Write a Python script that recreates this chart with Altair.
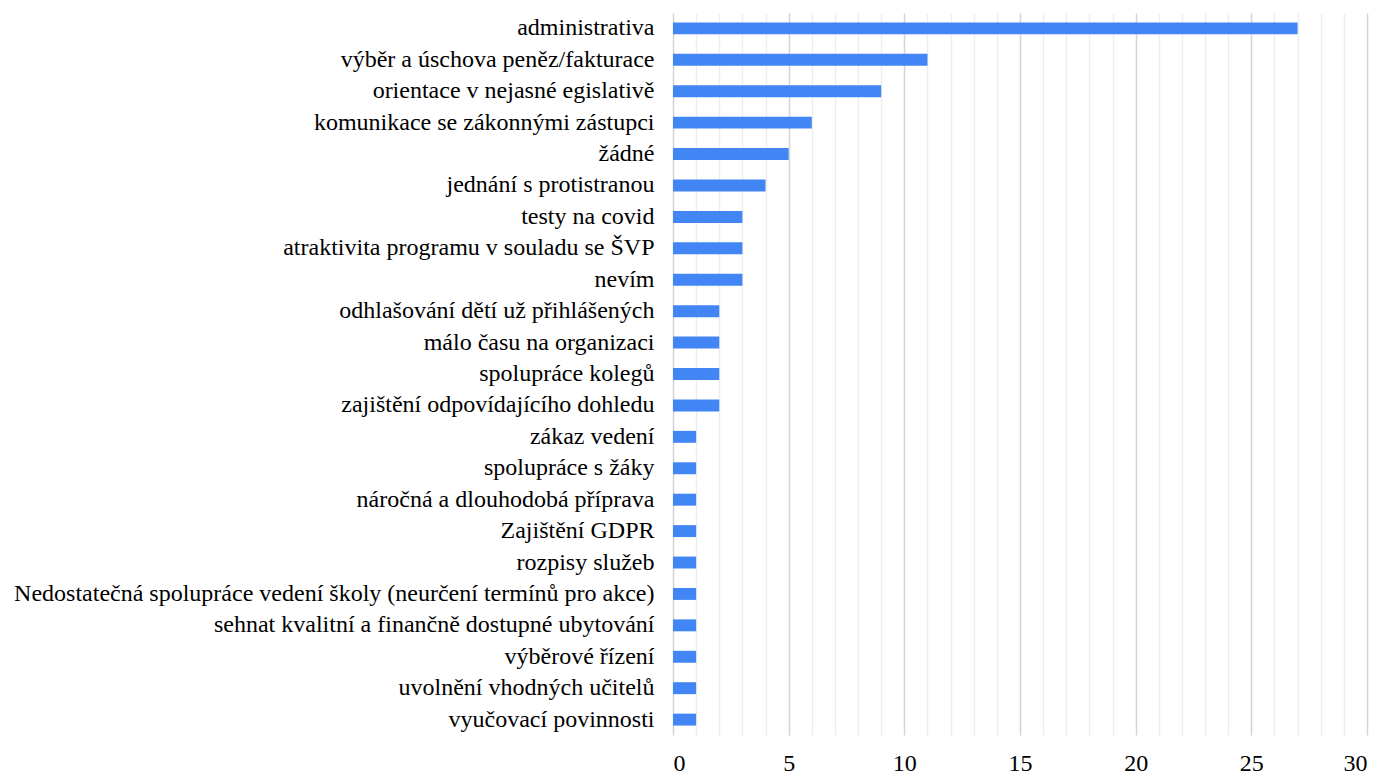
import altair as alt
import pandas as pd

categories = [
    "administrativa",
    "výběr a úschova peněz/fakturace",
    "orientace v nejasné egislativě",
    "komunikace se zákonnými zástupci",
    "žádné",
    "jednání s protistranou",
    "testy na covid",
    "atraktivita programu v souladu se ŠVP",
    "nevím",
    "odhlašování dětí už přihlášených",
    "málo času na organizaci",
    "spolupráce kolegů",
    "zajištění odpovídajícího dohledu",
    "zákaz vedení",
    "spolupráce s žáky",
    "náročná a dlouhodobá příprava",
    "Zajištění GDPR",
    "rozpisy služeb",
    "Nedostatečná spolupráce vedení školy (neurčení termínů pro akce)",
    "sehnat kvalitní a finančně dostupné ubytování",
    "výběrové řízení",
    "uvolnění vhodných učitelů",
    "vyučovací povinnosti",
]
values = [27, 11, 9, 6, 5, 4, 3, 3, 3, 2, 2, 2, 2, 1, 1, 1, 1, 1, 1, 1, 1, 1, 1]
x_ticks = list(range(0, 31))

df = pd.DataFrame({"category": categories, "value": values})

FONT = "Liberation Serif"

chart = (
    alt.Chart(df)
    .mark_bar(color="#4285F4")
    .encode(
        x=alt.X(
            "value:Q",
            scale=alt.Scale(domain=[0, 30], nice=False),
            axis=alt.Axis(
                title=None,
                values=x_ticks,
                labelExpr="datum.value % 5 === 0 ? datum.label : ''",
                grid=True,
                gridColor={
                    "condition": {"test": "datum.value % 5 === 0", "value": "#d4d4d4"},
                    "value": "#ededed",
                },
                gridWidth=1.5,
                domain=False,
                ticks=False,
                labelFont=FONT,
                labelFontSize=24,
                labelColor="#000000",
                labelPadding=16,
            ),
        ),
        y=alt.Y(
            "category:N",
            sort=categories,
            scale=alt.Scale(paddingInner=0.62, paddingOuter=0.3),
            axis=alt.Axis(
                title=None,
                domain=False,
                ticks=False,
                labelFont=FONT,
                labelFontSize=24,
                labelColor="#000000",
                labelLimit=900,
                labelPadding=19,
            ),
        ),
    )
    .properties(width=694, height=722)
    .configure_view(stroke=None)
)

chart.save("out.html", embed_options={"renderer": "svg", "actions": False})
